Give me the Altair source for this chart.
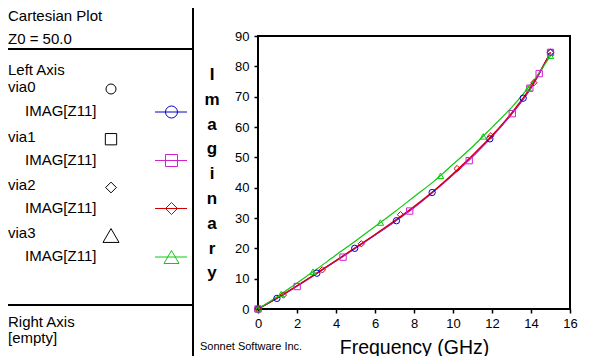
import altair as alt
import pandas as pd

FONT = "Liberation Sans"

# ---------------- data ----------------
series = ["via0", "via1", "via2", "via3"]
colors = ["#0000C8", "#D020D0", "#D00000", "#10C810"]
shapes = ["circle", "square", "diamond", "triangle-up"]

freq = [0, 1, 2, 3, 4, 5, 6, 7, 8, 9, 10, 11, 12, 13, 14, 15]
via0_y = [0, 3.6, 7.6, 11.7, 15.9, 20.1, 24.4, 28.8, 33.5, 38.7, 44.3, 50.3, 56.9, 64.2, 72.9, 84.5]
via1_y = [0, 3.6, 7.5, 11.6, 15.8, 20.0, 24.4, 28.8, 33.4, 38.6, 44.2, 50.2, 56.8, 64.3, 72.9, 84.6]
via2_y = [0, 3.7, 7.7, 11.8, 16.0, 20.3, 24.6, 29.1, 33.8, 38.9, 44.6, 50.7, 57.2, 64.6, 73.3, 84.6]
via3_y = [0, 4.1, 8.6, 13.1, 17.8, 22.4, 27.2, 32.0, 37.0, 42.0, 47.7, 53.5, 59.9, 66.4, 74.1, 83.5]

m0_f = [0, 0.97, 3.02, 4.96, 7.1, 8.93, 11.89, 13.6, 15.0]
m0_y = [0, 3.5, 11.8, 20.0, 29.1, 38.4, 56.1, 69.5, 84.6]
m1_f = [0, 2.01, 4.36, 7.78, 10.83, 13.04, 13.94, 14.42, 15.0]
m1_y = [0, 7.4, 17.1, 32.3, 48.9, 64.4, 72.8, 77.6, 84.6]
m2_f = [0, 1.3, 3.3, 5.3, 7.31, 10.21, 11.94, 14.15, 15.0]
m2_y = [0, 4.6, 12.9, 21.5, 31.1, 46.3, 57.1, 74.6, 84.6]
m3_f = [0, 1.19, 2.82, 6.28, 9.36, 11.55, 13.86, 15.0]
m3_y = [0, 4.95, 12.3, 28.5, 43.9, 56.9, 72.8, 83.5]

x_ticks = [0, 2, 4, 6, 8, 10, 12, 14, 16]
y_ticks = [0, 10, 20, 30, 40, 50, 60, 70, 80, 90]

# ---------------- tables ----------------
curves = [via0_y, via1_y, via2_y, via3_y]
line_df = pd.DataFrame({
    "f": [f for _ in series for f in freq],
    "v": [v for c in curves for v in c],
    "s": [s for s in series for _ in freq],
})
mf = [m0_f, m1_f, m2_f, m3_f]
my = [m0_y, m1_y, m2_y, m3_y]
mark_df = pd.DataFrame({
    "f": [f for l in mf for f in l],
    "v": [v for l in my for v in l],
    "s": [s for s, l in zip(series, mf) for _ in l],
})

xs = alt.Scale(domain=[0, 16], nice=False, zero=False)
ys = alt.Scale(domain=[0, 90], nice=False, zero=False)
cs = alt.Scale(domain=series, range=colors)
ss = alt.Scale(domain=series, range=shapes)

xaxis = alt.Axis(values=x_ticks, tickCount=len(x_ticks), title="Frequency (GHz)", titleFont=FONT,
                 titleFontSize=19.5, titleFontWeight="normal", titleColor="black",
                 titleBaseline="alphabetic", titleY=44, labelFont=FONT, labelFontSize=13,
                 labelColor="black", tickColor="black", tickSize=4, tickWidth=1.5, domain=False,
                 grid=False, labelPadding=4, labelFlush=False, labelOverlap=False)
yaxis = alt.Axis(values=y_ticks, tickCount=len(y_ticks), title=None, labelFont=FONT, labelFontSize=13,
                 labelColor="black", tickColor="black", tickSize=4, tickWidth=1.5, domain=False,
                 grid=False, labelPadding=5, labelFlush=False, labelOverlap=False)

lines = alt.Chart(line_df).mark_line(strokeWidth=1.2, interpolate="monotone").encode(
    x=alt.X("f:Q", scale=xs, axis=xaxis),
    y=alt.Y("v:Q", scale=ys, axis=yaxis),
    color=alt.Color("s:N", scale=cs, legend=None),
)
points = alt.Chart(mark_df).mark_point(filled=False, strokeWidth=1, size=40, opacity=1).encode(
    x=alt.X("f:Q", scale=xs, axis=xaxis),
    y=alt.Y("v:Q", scale=ys, axis=yaxis),
    color=alt.Color("s:N", scale=cs, legend=None),
    shape=alt.Shape("s:N", scale=ss, legend=None),
)

one = pd.DataFrame({"k": [0]})


def text(t, x, y, size=15, align="left", weight="normal", baseline="middle", **kw):
    return alt.Chart(one).mark_text(text=t, align=align, baseline=baseline, fontSize=size,
                                    font=FONT, fontWeight=weight, color="black", **kw).encode(
        x=alt.value(x), y=alt.value(y))


def rule(x1, y1, x2, y2, color="black", w=2):
    return alt.Chart(one).mark_rule(color=color, strokeWidth=w).encode(
        x=alt.value(x1), x2=alt.value(x2), y=alt.value(y1), y2=alt.value(y2))


def sym(shape, x, y, size, color="black"):
    return alt.Chart(one).mark_point(shape=shape, filled=False, size=size, color=color,
                                     strokeWidth=1, opacity=1).encode(
        x=alt.value(x), y=alt.value(y))


layers = [lines, points]

# panel lines
layers += [
    rule(-65, -30, -65, 330),
    rule(-252, 13, -65, 13),
    rule(-252, 269, -65, 269),
]

# left panel texts
layers += [
    text("Cartesian Plot", -250, -20.5),
    text("Z0 = 50.0", -250, 2.5),
    text("Left Axis", -250, 33.5),
    text("Right Axis", -250, 286),
    text("[empty]", -250, 302),
]
row_y = [50.5, 100.7, 149, 197]
lab_y = [75, 123.5, 171.5, 220]
blk_size = [100, 128, 115, 256]
smp_size = [144, 144, 144, 225]
for i, s in enumerate(series):
    layers.append(text(s, -250, row_y[i]))
    layers.append(text("IMAG[Z11]", -233, lab_y[i]))
    layers.append(sym(shapes[i], -147, row_y[i] + 2.5, blk_size[i]))
    layers.append(rule(-103, lab_y[i] + 1, -71, lab_y[i] + 1, color=colors[i], w=1))
    layers.append(sym(shapes[i], -86.5, lab_y[i] + 1, smp_size[i], color=colors[i]))

# vertical axis title stacked
layers.append(text("I\nm\na\ng\ni\nn\na\nr\ny", -46, 44, size=17, align="center", weight="bold",
                   baseline="alphabetic", lineBreak="\n", lineHeight=24.8))
layers.append(text("Sonnet Software Inc.", -58, 311, size=11))

chart = alt.layer(*layers).properties(
    width=312, height=273,
    padding={"left": 250, "top": 28, "right": 12, "bottom": 47},
    autosize=alt.AutoSizeParams(type="none"),
    background="white",
).configure_view(stroke="black", strokeWidth=2)

chart.save("out.html", embed_options={"renderer": "svg", "actions": False})
